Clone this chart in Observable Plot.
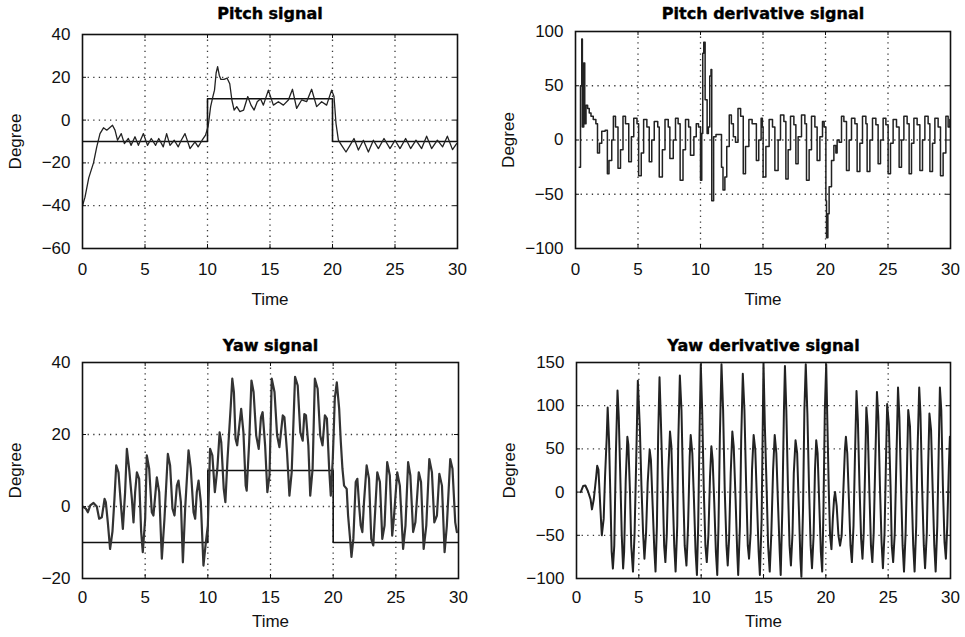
<!DOCTYPE html>
<html><head><meta charset="utf-8">
<script src="https://cdn.jsdelivr.net/npm/d3@7"></script>
<script src="https://cdn.jsdelivr.net/npm/@observablehq/plot@0.6"></script>
<style>
body{margin:0;background:#fff}
#c{position:relative;width:965px;height:637px;overflow:hidden;background:#fff}
#c svg{position:absolute}
</style>
</head><body><div id="c"></div>
<script>
// ---------- data ----------
const xTicks = [0, 5, 10, 15, 20, 25, 30];
const titles = ["Pitch signal", "Pitch derivative signal", "Yaw signal", "Yaw derivative signal"];
const pitchYTicks = [-60, -40, -20, 0, 20, 40];
const pitchDerYTicks = [-100, -50, 0, 50, 100];
const yawYTicks = [-20, 0, 20, 40];
const yawDerYTicks = [-100, -50, 0, 50, 100, 150];

const pitchRef = [[0,-10],[10,-10],[10,10],[20,10],[20,-10],[30,-10],[30,0]];
const pitchSignal = [[0,-40],[0.2,-36],[0.5,-27],[0.88,-20],[1.14,-12.5],[1.4,-6.3],[1.68,-3.6],[1.94,-4.7],[2.4,-2.4],[2.6,-4.7],[2.8,-9.4],[3.1,-6.3],[3.35,-11],[3.67,-8.6],[3.88,-11.8],[4.2,-7.8],[4.47,-11.8],[4.87,-6.3],[5.2,-11.8],[5.5,-8.6],[5.85,-11.8],[6.1,-8.6],[6.46,-12.5],[6.73,-6.3],[7.0,-11.8],[7.34,-9.4],[7.66,-12.5],[7.9,-9.4],[8.2,-6.3],[8.6,-13.3],[9.0,-10.2],[9.25,-12.5],[9.57,-9.4],[9.84,-7],[10.05,-3],[10.25,6.3],[10.43,11],[10.56,14],[10.69,22],[10.81,25],[10.94,21],[11.07,19],[11.32,19],[11.57,19.6],[11.78,17],[11.95,9.4],[12.13,4.7],[12.34,6.3],[12.59,4],[12.89,4.7],[13.22,11],[13.48,7],[13.73,4.7],[13.98,8.6],[14.24,10],[14.47,7],[14.87,14],[15.27,7],[15.67,8.6],[16.07,7],[16.47,9.4],[16.8,14.4],[17.13,5.5],[17.53,9.4],[17.93,8.6],[18.33,14.4],[18.73,6.3],[19.13,8.6],[19.53,7],[19.93,14],[20.12,11],[20.28,-1.6],[20.47,-9.4],[20.73,-11.8],[21.08,-14.9],[21.4,-11.8],[21.72,-8.6],[22.07,-14],[22.47,-9.4],[22.87,-14.9],[23.27,-9.4],[23.67,-13.3],[24.12,-8.6],[24.6,-13.3],[25.0,-9.4],[25.4,-13.3],[25.85,-8.6],[26.25,-13.3],[26.68,-9.4],[27.13,-13.3],[27.53,-7.5],[27.93,-13.3],[28.39,-9.4],[28.81,-12.5],[29.19,-7.5],[29.6,-13.8],[29.93,-11]];

const pitchDerivative = [[0.3,-25],[0.4,50],[0.5,93],[0.55,12],[0.66,71],[0.74,15],[0.84,32],[0.97,29],[1.1,25],[1.24,22],[1.42,19],[1.63,15],[1.76,-12],[1.92,-3],[2.1,8],[2.37,9],[2.55,-31],[2.68,-19],[2.9,0],[3.03,22],[3.2,12],[3.4,-26],[3.6,-9],[3.8,22],[4.0,15],[4.26,-20],[4.47,3],[4.66,20],[4.92,15],[5.05,-33],[5.26,-12],[5.45,19],[5.71,12],[5.9,-20],[6.1,0],[6.3,17],[6.58,12],[6.7,-34],[6.95,-9],[7.16,19],[7.42,12],[7.55,-17],[7.82,0],[8.0,20],[8.21,15],[8.37,-37],[8.6,-9],[8.8,19],[9.05,12],[9.2,-14],[9.47,3],[9.66,15],[9.84,12],[10.0,-37],[10.1,6],[10.18,80],[10.26,90],[10.37,37],[10.53,6],[10.63,12],[10.74,59],[10.84,65],[10.9,-56],[11.05,3],[11.24,5],[11.5,5],[11.68,-25],[11.8,-46],[11.95,-34],[12.1,-6],[12.3,23],[12.47,15],[12.63,3],[12.8,-2],[13.0,29],[13.21,22],[13.42,-31],[13.6,-6],[13.87,19],[14.13,15],[14.47,-19],[14.66,0],[14.85,20],[14.95,12],[15.01,-34],[15.23,-6],[15.49,19],[15.76,12],[15.95,-28],[16.21,0],[16.4,23],[16.67,17],[16.83,-36],[17.01,-9],[17.2,22],[17.47,14],[17.63,-22],[17.81,3],[18.08,23],[18.35,15],[18.48,-37],[18.69,-9],[18.88,22],[19.15,12],[19.33,-19],[19.55,3],[19.76,17],[19.89,12],[20.03,-56],[20.08,-90],[20.19,-68],[20.29,-43],[20.48,-19],[20.67,-5],[20.83,-12],[20.93,0],[21.09,-2],[21.28,22],[21.47,17],[21.68,-28],[21.89,0],[22.08,20],[22.35,15],[22.53,-29],[22.75,-3],[22.96,22],[23.23,15],[23.33,-29],[23.55,0],[23.76,20],[24.03,14],[24.21,-22],[24.4,0],[24.61,20],[24.83,14],[25.01,-31],[25.2,-3],[25.41,19],[25.68,12],[25.89,-25],[26.08,0],[26.27,22],[26.53,15],[26.69,-31],[26.88,-3],[27.07,20],[27.33,14],[27.55,-28],[27.76,0],[27.95,22],[28.21,15],[28.35,-29],[28.56,-3],[28.75,20],[29.01,12],[29.2,-33],[29.41,-12],[29.63,22],[29.81,12],[29.95,19]];

const yawRef = [[0,-10],[10,-10],[10,10],[20,10],[20,-10],[30,-10]];
const yawSignal = [[0,0],[0.27,-0.6],[0.43,-1.6],[0.62,0.3],[0.88,1],[1.14,0],[1.33,-3.4],[1.54,-3],[1.76,2.1],[1.86,1.2],[2.02,-4.4],[2.2,-11.8],[2.39,-7],[2.55,2.1],[2.69,11.4],[2.87,9.5],[3.09,-0.6],[3.22,-6.2],[3.4,4],[3.54,16],[3.72,10.5],[3.94,2.1],[4.07,-4.4],[4.2,4],[4.34,9.5],[4.52,7.7],[4.68,-7],[4.81,-12.7],[5.0,-3.4],[5.13,14.2],[5.32,10.5],[5.53,-1.6],[5.66,-2.5],[5.85,4.9],[5.93,8.1],[6.12,4],[6.33,-14.5],[6.54,-3.4],[6.81,14.6],[6.99,11.4],[7.18,-0.6],[7.34,-2.5],[7.53,5.8],[7.66,7.2],[7.85,1.2],[8.01,-15.5],[8.19,-0.6],[8.46,15.6],[8.64,10.5],[8.86,-1.6],[8.99,-3.4],[9.12,4],[9.26,7.2],[9.44,1.2],[9.65,-16.4],[9.84,-10],[10.0,-5.3],[10.18,16],[10.36,14.2],[10.56,4],[10.76,10.5],[10.94,20.6],[11.07,17.9],[11.27,4.9],[11.4,1.2],[11.57,13.2],[11.83,28],[11.95,35.5],[12.08,31.8],[12.21,18.8],[12.34,17],[12.54,23.4],[12.66,27.1],[12.84,20.6],[13.02,5.8],[13.1,4.4],[13.3,17.9],[13.48,35],[13.65,31.8],[13.86,19.7],[14.06,16],[14.24,24.8],[14.37,26.2],[14.57,17],[14.75,4],[14.92,8.6],[15.1,35.5],[15.32,31.8],[15.53,19.7],[15.71,16.5],[15.98,25.3],[16.11,24.8],[16.32,15],[16.51,3],[16.69,9.5],[16.96,36],[17.17,33.6],[17.38,20.6],[17.57,18.3],[17.7,25.7],[17.83,25.3],[18.02,17],[18.17,3],[18.36,10.5],[18.54,35.5],[18.76,32.7],[18.97,19.7],[19.15,17],[19.34,25.3],[19.5,24.4],[19.68,10.5],[19.81,3],[19.97,13.2],[20.13,30],[20.29,34.5],[20.48,27.1],[20.61,17.9],[20.74,10.5],[20.87,5.8],[21.08,4.9],[21.19,-2.5],[21.35,-9],[21.46,-14],[21.61,-9],[21.8,6.8],[21.93,7.7],[22.09,-0.6],[22.2,-5.3],[22.33,-7.1],[22.46,1.2],[22.67,11.4],[22.86,7.7],[23.04,-9],[23.2,-10.8],[23.39,1.2],[23.52,9.5],[23.73,6.8],[23.92,-9],[24.1,-5.3],[24.31,12.3],[24.52,8.6],[24.71,-8.1],[24.84,-3.4],[25.11,9.5],[25.32,5.8],[25.58,-11.8],[25.77,-5.3],[25.98,12.3],[26.16,8.6],[26.38,-7.1],[26.56,-4.4],[26.83,9.5],[27.01,6.8],[27.22,-11.8],[27.43,-5.3],[27.67,13.2],[27.88,9.5],[28.07,-4.4],[28.28,-2.5],[28.47,9.1],[28.68,5.8],[28.89,-12.7],[29.07,-5.3],[29.34,13.2],[29.52,10.5],[29.74,-4.4],[29.87,-7.1]];

const yawDerivative = [[0.34,0],[0.53,7],[0.71,7.6],[0.92,1],[1.13,-8.4],[1.24,-20],[1.39,-8],[1.58,18],[1.66,30.5],[1.76,26],[1.92,-20],[2.03,-50],[2.18,-31],[2.29,18],[2.42,62],[2.5,98],[2.61,60],[2.71,0],[2.82,-69],[2.92,-88.5],[3.03,-62],[3.16,45],[3.29,117.6],[3.39,87],[3.5,26],[3.63,-50],[3.74,-88.5],[3.82,-69],[3.95,14.5],[4.08,64],[4.16,55],[4.29,0],[4.39,-62],[4.53,-92],[4.66,-47],[4.79,37],[4.92,129],[5.08,75],[5.21,7],[5.34,-47],[5.45,-77],[5.58,-47],[5.71,11],[5.87,49],[5.97,37],[6.11,-16],[6.24,-66],[6.34,-92],[6.45,-39],[6.55,64],[6.66,133],[6.76,87],[6.92,3],[7.03,-62],[7.13,-81],[7.24,-50],[7.37,26],[7.5,70],[7.61,53],[7.71,0],[7.84,-62],[7.95,-92],[8.08,-39],[8.16,56],[8.29,135],[8.42,95],[8.55,7],[8.68,-62],[8.82,-85],[8.95,-39],[9.08,41],[9.16,66],[9.29,45],[9.42,-8],[9.55,-69],[9.66,-96],[9.76,-39],[9.87,68],[9.97,148],[10.08,95],[10.21,3],[10.34,-62],[10.45,-81],[10.58,-50],[10.71,18],[10.82,53],[10.92,37],[11.05,-12],[11.18,-69],[11.29,-96],[11.39,-39],[11.5,64],[11.63,148],[11.76,95],[11.89,3],[12.03,-62],[12.13,-85],[12.24,-54],[12.37,22],[12.5,70],[12.61,53],[12.76,-8],[12.89,-69],[12.97,-96],[13.11,-39],[13.21,60],[13.34,137],[13.47,95],[13.61,7],[13.74,-62],[13.84,-77],[13.97,-47],[14.08,26],[14.21,66],[14.34,49],[14.47,-8],[14.61,-69],[14.71,-96],[14.85,-31],[15.0,150],[15.11,76],[15.26,0],[15.37,-62],[15.5,-92],[15.63,-47],[15.77,26],[15.9,66],[16.03,45],[16.16,-12],[16.3,-69],[16.38,-96],[16.51,-20],[16.64,95],[16.72,146],[16.83,95],[16.96,7],[17.09,-62],[17.2,-85],[17.33,-47],[17.43,22],[17.57,60],[17.7,45],[17.83,-16],[17.96,-77],[18.04,-98],[18.17,-20],[18.28,95],[18.39,148],[18.52,91],[18.65,7],[18.78,-62],[18.89,-88],[19.02,-50],[19.13,26],[19.23,60],[19.34,45],[19.47,-12],[19.6,-69],[19.71,-92],[19.81,-20],[19.92,95],[20.03,148],[20.13,76],[20.24,0],[20.34,-50],[20.45,-66],[20.56,-31],[20.66,-8],[20.74,0],[20.87,-16],[21.01,-50],[21.14,-62],[21.27,-50],[21.4,0],[21.53,49],[21.61,64],[21.72,45],[21.85,-8],[21.98,-62],[22.09,-81],[22.22,-39],[22.33,37],[22.46,117],[22.57,83],[22.7,7],[22.83,-54],[22.94,-77],[23.04,-47],[23.15,26],[23.25,98],[23.36,76],[23.49,3],[23.62,-62],[23.73,-81],[23.84,-47],[23.97,37],[24.1,116],[24.21,87],[24.34,7],[24.47,-58],[24.58,-88],[24.71,-47],[24.81,26],[24.92,102],[25.05,79],[25.19,7],[25.29,-62],[25.4,-81],[25.53,-47],[25.66,37],[25.79,121],[25.9,87],[26.03,7],[26.16,-62],[26.27,-92],[26.4,-47],[26.51,26],[26.61,95],[26.75,76],[26.88,3],[27.01,-62],[27.12,-92],[27.25,-39],[27.35,45],[27.49,121],[27.59,91],[27.72,7],[27.86,-62],[27.96,-88],[28.1,-47],[28.2,26],[28.31,91],[28.44,72],[28.57,3],[28.7,-62],[28.81,-92],[28.94,-39],[29.05,45],[29.15,121],[29.26,95],[29.39,7],[29.52,-58],[29.63,-77],[29.74,-39],[29.87,30],[29.95,64]];

// ---------- drawing ----------
const fmt = d => d < 0 ? "\u2212" + Math.abs(d) : String(d);
const rows = a => a.map(([t, v]) => ({t, v}));
const FONT = "'Liberation Sans', Arial, sans-serif";

function panel(o) {
  const fw = o.w - o.ml - o.mr, fh = o.h - o.mt - o.mb;
  const gx = xTicks.filter(t => t > 0 && t < 30);
  const gy = o.yTicks.filter(v => v > o.yDomain[0] && v < o.yDomain[1]);
  const dots = {stroke: "#222", strokeOpacity: 0.9, strokeWidth: 1.3, strokeDasharray: "1.3,4.3"};
  const marks = [
    Plot.gridX(gx, {x: d => d, ...dots}),
    Plot.gridY(gy, {y: d => d, ...dots}),
    Plot.tickX(gx, {x: d => d, insetTop: fh - 4, stroke: "#111"}),
    Plot.tickX(gx, {x: d => d, insetBottom: fh - 4, stroke: "#111"}),
    Plot.tickY(gy, {y: d => d, insetLeft: fw - 4, stroke: "#111"}),
    Plot.tickY(gy, {y: d => d, insetRight: fw - 4, stroke: "#111"})
  ];
  if (o.ref) marks.push(Plot.line(rows(o.ref), {x: "t", y: "v", stroke: "#111", strokeWidth: 1.6, clip: true}));
  marks.push(Plot.line(rows(o.sig), {x: "t", y: "v", stroke: o.color, strokeWidth: o.sw, clip: true, strokeLinejoin: "round", curve: o.curve || "linear"}));
  marks.push(
    Plot.frame({stroke: "#111", strokeWidth: 1.6}),
    Plot.axisX({ticks: xTicks, tickSize: 0, tickPadding: o.xPad, tickFormat: fmt, label: "Time", labelAnchor: "center", labelArrow: "none", labelOffset: o.xLabelOffset, fontSize: 17, fontFamily: FONT}),
    Plot.axisY({ticks: o.yTicks, tickSize: 0, tickPadding: 12, tickFormat: fmt, label: "Degree", labelAnchor: "center", labelArrow: "none", labelOffset: 74, fontSize: 17, fontFamily: FONT}),
    Plot.text([o.title], {text: d => d, frameAnchor: "top", dy: o.titleDy, fontFamily: "DejaVu Sans", fontWeight: "bold", fontSize: 16, fill: "#000", stroke: "#000", strokeWidth: 0.4, lineAnchor: "middle"})
  );
  const svg = Plot.plot({
    width: o.w, height: o.h,
    marginLeft: o.ml, marginRight: o.mr, marginTop: o.mt, marginBottom: o.mb,
    style: {fontFamily: FONT, fontSize: "17px", color: "#111", background: "transparent", overflow: "visible"},
    x: {domain: [0, 30]},
    y: {domain: o.yDomain},
    marks
  });
  svg.style.left = o.left + "px";
  svg.style.top = o.top + "px";
  document.getElementById("c").appendChild(svg);
}

panel({title: titles[0], sig: pitchSignal, ref: pitchRef, yDomain: [-60, 40], yTicks: pitchYTicks,
  left: 0, top: 0, w: 480, h: 318, ml: 82, mr: 23, mt: 34, mb: 70, titleDy: -21, xPad: 14, xLabelOffset: 56, color: "#222", sw: 1.3});
panel({title: titles[1], sig: pitchDerivative, yDomain: [-100, 100], yTicks: pitchDerYTicks,
  left: 480, top: 0, w: 485, h: 318, ml: 95, mr: 15, mt: 31, mb: 70, titleDy: -18, xPad: 14, xLabelOffset: 56, color: "#222", sw: 1.5, curve: "step-after"});
panel({title: titles[2], sig: yawSignal, ref: yawRef, yDomain: [-20, 40], yTicks: yawYTicks,
  left: 0, top: 318, w: 480, h: 319, ml: 82, mr: 22, mt: 44, mb: 59, titleDy: -17, xPad: 12, xLabelOffset: 48, color: "#333", sw: 2.2});
panel({title: titles[3], sig: yawDerivative, yDomain: [-100, 150], yTicks: yawDerYTicks,
  left: 480, top: 318, w: 485, h: 319, ml: 96, mr: 15, mt: 44, mb: 59, titleDy: -17, xPad: 12, xLabelOffset: 48, color: "#222", sw: 2.0});
</script>
</body></html>
